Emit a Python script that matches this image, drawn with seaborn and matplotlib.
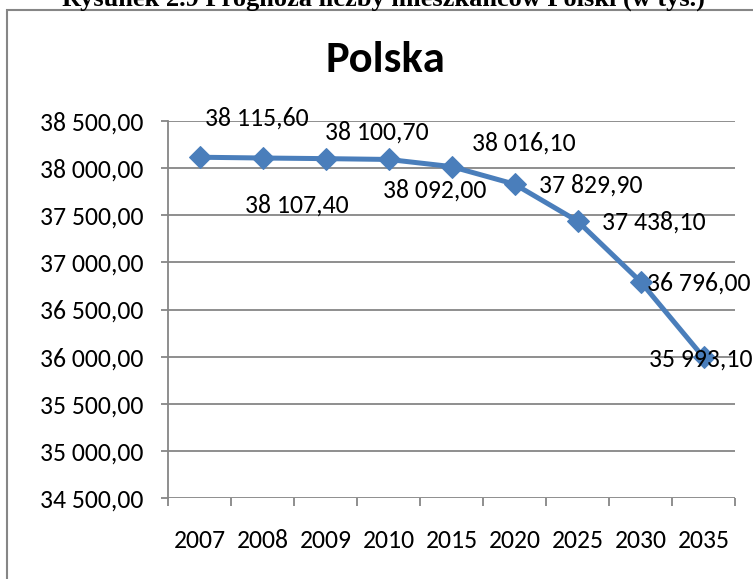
import pandas as pd
import matplotlib
matplotlib.use('Agg')
import matplotlib.pyplot as plt
import seaborn as sns

# data (population forecast, thousands)
years = ['2007', '2008', '2009', '2010', '2015', '2020', '2025', '2030', '2035']
population = [38115.6, 38107.4, 38100.7, 38092.0, 38016.1, 37829.9, 37438.1, 36796.0, 35993.1]
y_ticks = [34500, 35000, 35500, 36000, 36500, 37000, 37500, 38000, 38500]

# label offsets in points (Excel put them all over the place)
label_offsets = [(41, 28), (25, -34), (37, 19), (33, -22), (52, 17), (55, -1), (55, -1), (42, -1), (-2, -1)]

df = pd.DataFrame({'Rok': years, 'Ludnosc': population})

def pl_fmt(v):
    # polish number style: space for thousands, comma for decimals
    return f"{v:,.2f}".replace(',', ' ').replace('.', ',')

sns.set_style('white')
plt.rcParams['font.family'] = ['Carlito', 'DejaVu Sans']
plt.rcParams['text.color'] = 'black'

fig = plt.figure(figsize=(7.53, 5.79), dpi=100)
ax = fig.add_axes([168/753, 81/579, 567/753, 377/579])

blue = '#4a7ebb'
grid_c = '#868686'
fs = 18.5

sns.lineplot(data=df, x='Rok', y='Ludnosc', ax=ax, color=blue, linewidth=3.6,
             marker='D', markersize=11, markeredgecolor=blue, sort=False)

ax.set_xlim(-0.5, len(years) - 0.5)
ax.set_ylim(34500, 38500)
ax.set_yticks(y_ticks)
ax.set_yticklabels([pl_fmt(v) for v in y_ticks])
ax.set_xticks(range(len(years)))
ax.set_xticklabels(years)
ax.set_xticks([i - 0.5 for i in range(len(years) + 1)], minor=True)
ax.set_xlabel('')
ax.set_ylabel('')

for v in y_ticks:
    ax.axhline(v, color=grid_c, linewidth=1.3, zorder=0)

for s in ['top', 'right', 'bottom']:
    ax.spines[s].set_visible(False)
ax.spines['left'].set_color(grid_c)
ax.spines['left'].set_linewidth(1.3)

ax.tick_params(axis='y', which='major', left=True, length=5, width=1.3, color=grid_c,
               pad=13, labelsize=fs, labelcolor='black')
ax.tick_params(axis='x', which='major', bottom=False, length=0, pad=22, labelsize=fs,
               labelcolor='black')
ax.tick_params(axis='x', which='minor', bottom=True, length=5.5, width=1.3, color=grid_c)

for i, (v, off) in enumerate(zip(population, label_offsets)):
    ax.annotate(pl_fmt(v), (i, v), xytext=off, textcoords='offset points',
                ha='center', va='center', fontsize=fs, color='black')

fig.text(385/753, 1 - 72/579, 'Polska', ha='center', va='baseline',
         fontsize=32, fontweight='bold', color='black')

# caption of the figure, cut off at the top of the picture
fig.text(383/753, 1 - 6/579, 'Rysunek 2.9 Prognoza liczby mieszkańców Polski (w tys.)',
         ha='center', va='baseline', fontsize=19, fontweight='bold', color='black',
         family=['Liberation Serif', 'DejaVu Serif'])

# chart frame
frame = plt.Rectangle((7/753, -0.1), 1.0, 1.1 - 10/579, transform=fig.transFigure,
                      fill=False, edgecolor=grid_c, linewidth=1.5, clip_on=False)
fig.patches.append(frame)

fig.savefig('out.png', dpi=100)
